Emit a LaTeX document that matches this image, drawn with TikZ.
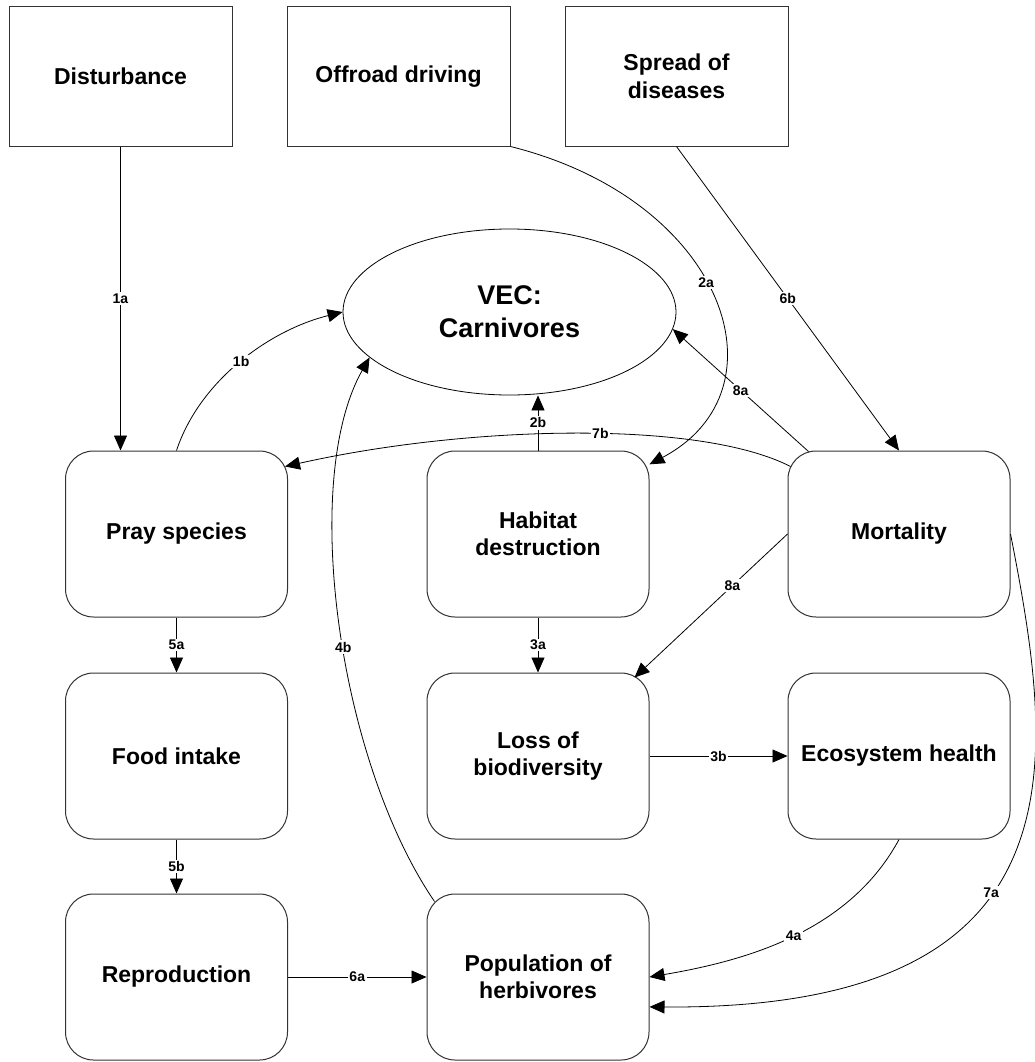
\documentclass[tikz,border=0pt]{standalone}
\usepackage{fontspec}
\setmainfont{Liberation Sans}
\usetikzlibrary{arrows.meta,shapes.geometric,calc}
\begin{document}
\begin{tikzpicture}[x=1pt,y=-1pt,
  srcbox/.style={draw=black!80, line width=1pt, minimum width=223pt, minimum height=139pt,
    inner sep=0pt, align=center, font=\fontsize{23}{28}\bfseries\selectfont},
  procbox/.style={draw=black!80, line width=1pt, rounded corners=28pt, minimum width=222pt,
    minimum height=166pt, inner sep=0pt, align=center, font=\fontsize{23}{27}\bfseries\selectfont},
  vecnode/.style={ellipse, draw=black, line width=0.8pt, minimum width=333pt, minimum height=166pt,
    inner sep=0pt, align=center, font=\fontsize{27}{33}\bfseries\selectfont},
  link/.style={draw=black, line width=0.8pt, -{Triangle[length=15pt,width=13pt]}},
  lbl/.style={fill=white, inner sep=1.5pt, font=\fontsize{14}{16}\bfseries\selectfont},
]
\useasboundingbox[fill=white] (0,0) rectangle (1034,1062);

% pressures
\node[srcbox] (dist) at (120.5,76.5) {Disturbance};
\node[srcbox] (off)  at (398.5,76.5) {Offroad driving};
\node[srcbox] (spr)  at (676.5,76.5) {Spread of\\diseases};

% valued ecosystem component
\node[vecnode] (vec) at (509.5,312) {VEC:\\Carnivores};

% effects
\node[procbox] (pray)  at (176.5,534) {Pray species};
\node[procbox] (hab)   at (538,534)   {Habitat\\destruction};
\node[procbox] (mort)  at (899,534)   {Mortality};
\node[procbox] (food)  at (176.5,756) {Food intake};
\node[procbox] (loss)  at (538,756)   {Loss of\\biodiversity};
\node[procbox] (eco)   at (899,756)   {Ecosystem health};
\node[procbox] (repro) at (176.5,977) {Reproduction};
\node[procbox] (pop)   at (538,977)   {Population of\\herbivores};

% pathways
\draw[link] (dist.south) -- node[lbl]{1a} (dist.south |- pray.north);
\draw[link] (pray.north) .. controls (200,380) and (270,330) .. (vec.west)
  node[lbl,pos=0.5]{1b};
\draw[link] (off.south east) .. controls (725,200) and (790,390) .. (hab.32)
  node[lbl,pos=0.46]{2a};
\draw[link] (hab.north) -- node[lbl]{2b} (hab.north |- vec.south);
\draw[link] (hab.south) -- node[lbl]{3a} (loss.north);
\draw[link] (loss.east) -- node[lbl]{3b} (eco.west);
\draw[link] (eco.south) .. controls (850,930) and (750,960) .. (pop.east)
  node[lbl,pos=0.5]{4a};
\draw[link] ($(pop.north west)+(8,8)$) .. controls (338,760) and (300,480) .. (vec.198)
  node[lbl,pos=0.46]{4b};
\draw[link] (pray.south) -- node[lbl]{5a} (food.north);
\draw[link] (food.south) -- node[lbl]{5b} (repro.north);
\draw[link] (repro.east) -- node[lbl]{6a} (pop.west);
\draw[link] (spr.south) -- node[lbl]{6b} (mort.north);
\draw[link] (mort.east) .. controls (1055,760) and (1090,1010) .. (pop.-15)
  node[lbl,pos=0.57]{7a};
\draw[link] ($(mort.north west)+(3,16)$) .. controls (700,420) and (470,425) .. ($(pray.north east)+(-3,16)$)
  node[lbl,pos=0.45]{7b};
\draw[link] ($(mort.north west)+(21,1)$) -- node[lbl]{8a} (vec.-6);
\draw[link] (mort.west) -- node[lbl,pos=0.36]{8a} ($(loss.north east)+(-15,5)$);
\end{tikzpicture}
\end{document}
